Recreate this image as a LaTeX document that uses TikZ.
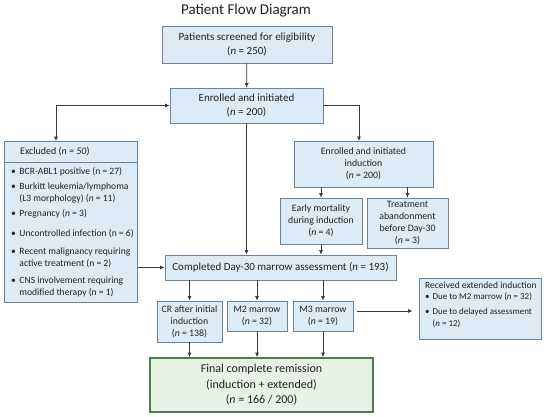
\documentclass[tikz,border=0pt]{standalone}
\usepackage{fontspec}
\setmainfont{Carlito}
\usetikzlibrary{arrows.meta}
\definecolor{boxfill}{HTML}{DDEBF6}
\definecolor{boxline}{HTML}{6F8296}
\definecolor{finfill}{HTML}{E6F2E3}
\definecolor{finline}{HTML}{4E7D54}
\definecolor{arr}{HTML}{3A3A3A}
\definecolor{txt}{HTML}{222222}
\newcommand{\nn}{\textit{n}}
\begin{document}
\begin{tikzpicture}[x=1pt,y=-1pt,
  box/.style={draw=boxline, fill=boxfill, line width=0.8pt, inner sep=0pt, align=center, text=txt},
  mainfont/.style={font=\fontsize{11}{14.5}\selectfont},
  smallfont/.style={font=\fontsize{9.8}{12}\selectfont},
  listfont/.style={font=\fontsize{9.6}{12}\selectfont},
  tinyfont/.style={font=\fontsize{9.5}{12}\selectfont},
  conn/.style={draw=arr, line width=0.7pt, -{Latex[length=4.5pt,width=4pt]}},
  lbl/.style={inner sep=0pt, text=txt}]
\useasboundingbox[fill=white] (0,0) rectangle (550,416);

\node[lbl, font=\fontsize{15}{17}\selectfont] (title) at (246,11) {Patient Flow Diagram};

\node[box, mainfont, minimum width=170pt, minimum height=37pt] (screen) at (247,44.5)
  {Patients screened for eligibility\\(\nn{} = 250)};
\node[box, mainfont, minimum width=153pt, minimum height=35pt] (enrolled) at (246.5,105.5)
  {Enrolled and initiated\\(\nn{} = 200)};

% Excluded
\node[box, minimum width=133pt, minimum height=161pt, anchor=north west] (excl) at (4,141) {};
\draw[boxline, line width=0.8pt] ([yshift=-21pt]excl.north west) -- ([yshift=-21pt]excl.north east);
\node[lbl, font=\fontsize{10}{12}\selectfont, anchor=west] (exclh) at (20,152) {Excluded (\textit{n = 50})};
\node[lbl, listfont, anchor=north west, align=left] (excll) at (11,166)
{\begin{tabular}{@{}l@{\hspace{3.5pt}}l@{}}
\textbullet & BCR-ABL1 positive (n = 27)\\[3pt]
\textbullet & Burkitt leukemia/lymphoma\\
 & (L3 morphology) (\nn{} = 11)\\[3pt]
\textbullet & Pregnancy (\nn{} = 3)\\[8pt]
\textbullet & Uncontrolled infection (n = 6)\\[6pt]
\textbullet & Recent malignancy requiring\\
 & active treatment (n = 2)\\[5pt]
\textbullet & CNS involvement requiring\\
 & modified therapy (n = 1)
\end{tabular}};

% Right branch
\node[box, smallfont, minimum width=139pt, minimum height=46pt] (induct) at (363.5,164)
  {Enrolled and initiated\\induction\\(\nn{} = 200)};
\node[box, smallfont, minimum width=82pt, minimum height=46pt] (early) at (321,221)
  {Early mortality\\during induction\\(\nn{} = 4)};
\node[box, smallfont, minimum width=81pt, minimum height=50pt] (aband) at (407.5,223)
  {Treatment\\abandonment\\before Day-30\\(\nn{} = 3)};

\node[box, mainfont, minimum width=231pt, minimum height=25pt] (compl) at (280.5,267.5)
  {Completed Day-30 marrow assessment (\nn{} = 193)};

\node[box, smallfont, minimum width=65pt, minimum height=41pt] (cr) at (189.5,321.5)
  {CR after initial\\induction\\(\nn{} = 138)};
\node[box, smallfont, minimum width=60pt, minimum height=30pt] (mtwo) at (257,316)
  {M2 marrow\\(\nn{} = 32)};
\node[box, smallfont, minimum width=60pt, minimum height=30pt] (mthree) at (323,316)
  {M3 marrow\\(\nn{} = 19)};

\node[box, minimum width=122pt, minimum height=61pt] (recv) at (480,308.5) {};
\node[lbl, tinyfont, anchor=north west, align=left] (recvt) at (425,282)
{Received extended induction\\[1pt]
{\fontsize{9}{12}\selectfont\begin{tabular}{@{}l@{\hspace{3pt}}l@{}}
\textbullet & Due to M2 marrow (\nn{} = 32)\\[3pt]
\textbullet & Due to delayed assessment\\
 & (\nn{} = 12)
\end{tabular}}};

\node[draw=finline, fill=finfill, line width=1.6pt, inner sep=0pt, align=center, text=txt,
  font=\fontsize{12}{15.5}\selectfont, minimum width=223pt, minimum height=54pt] (final) at (261.5,385)
  {Final complete remission\\(induction + extended)\\(\nn{} = 166 / 200)};

% connectors
\coordinate (exclin) at (56,141);
\coordinate (indin) at (359,141);
\draw[conn] (screen) -- (enrolled);
\draw[draw=arr, line width=0.7pt, {Latex[length=4.5pt,width=4pt]}-{Latex[length=4.5pt,width=4pt]}] (enrolled.west) -| (exclin);
\draw[conn] (enrolled.east) -| (indin);
\draw[conn] (enrolled.south) -- (enrolled.south |- compl.north);
\draw[conn] (early.north |- induct.south) -- (early.north);
\draw[conn] (aband.north |- induct.south) -- (aband.north);
\draw[conn] (early.south) -- (early.south |- compl.north);
\draw[conn] (compl.west -| excl.east) -- (compl.west);
\draw[conn] (cr.north |- compl.south) -- (cr.north);
\draw[conn] (mtwo.north |- compl.south) -- (mtwo.north);
\draw[conn] (mthree.north |- compl.south) -- (mthree.north);
\draw[conn, shorten <=4pt, shorten >=6pt] ([yshift=5pt]mthree.east) -- ([yshift=5pt]mthree.east -| recv.west);
\draw[conn] (cr.south) -- (cr.south |- final.north);
\draw[conn] (mtwo.south) -- (mtwo.south |- final.north);
\draw[conn] (mthree.south) -- (mthree.south |- final.north);
\end{tikzpicture}
\end{document}
